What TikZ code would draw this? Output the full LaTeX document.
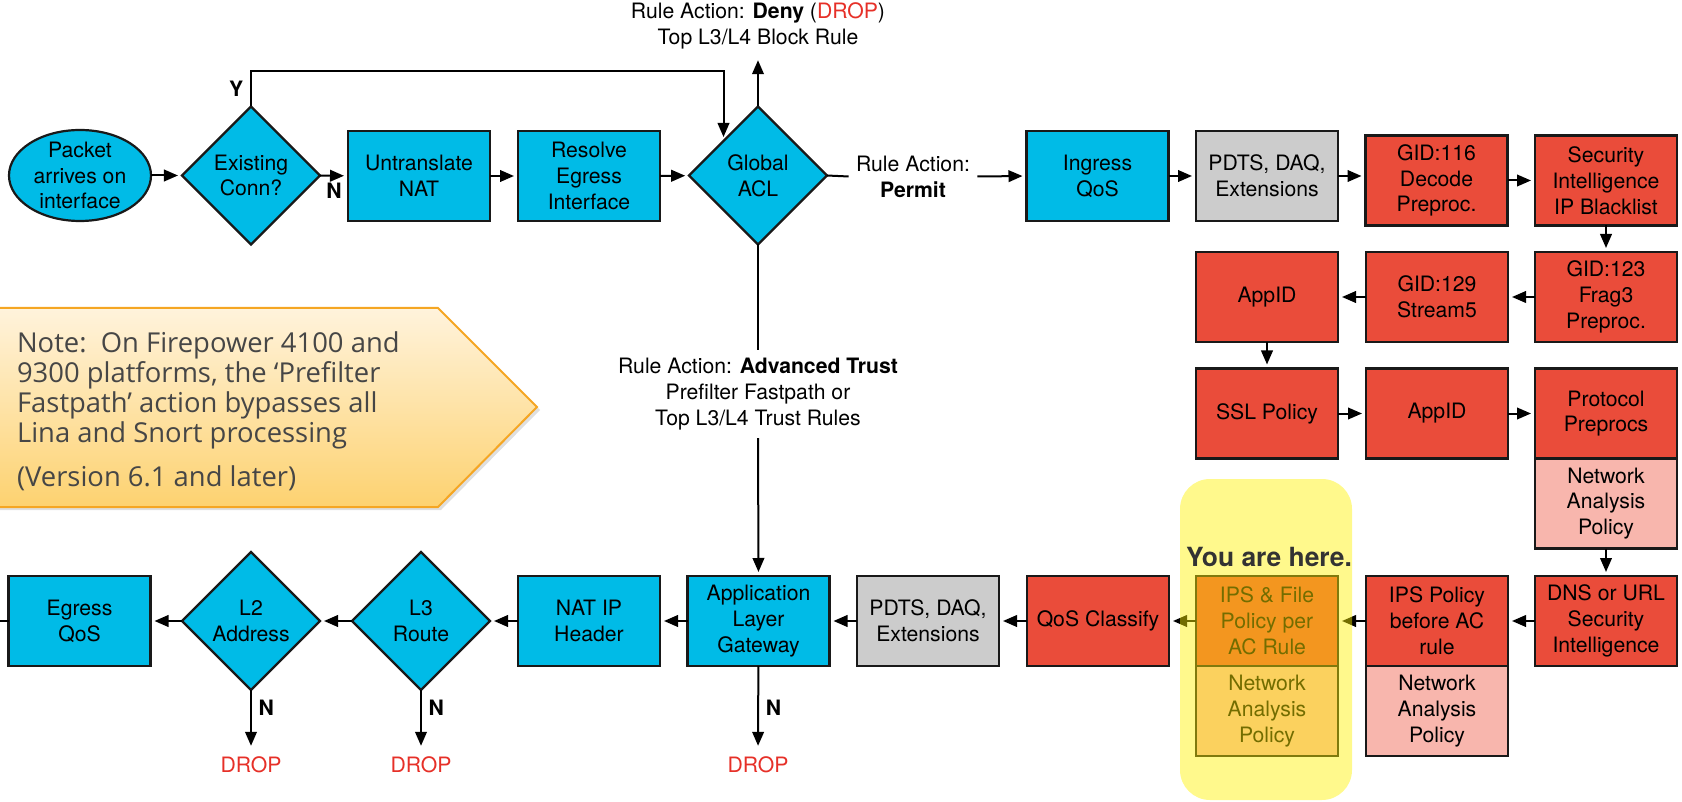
\documentclass[tikz,border=0pt]{standalone}
\usepackage{fontspec}
\setmainfont{TeX Gyre Heros}
\newfontfamily\notefont{Open Sans}
\usetikzlibrary{arrows.meta,positioning,shapes.geometric,shadows}
\definecolor{fpblue}{RGB}{0,187,231}
\definecolor{fpred}{RGB}{234,76,58}
\definecolor{fpgrey}{RGB}{204,204,204}
\definecolor{fppink}{RGB}{248,182,173}
\definecolor{droptxt}{RGB}{230,48,40}
\definecolor{notetop}{RGB}{255,243,220}
\definecolor{notebot}{RGB}{253,210,112}
\definecolor{noteedge}{RGB}{245,166,35}
\definecolor{notetxt}{RGB}{70,70,70}
\newcommand{\flowfont}{\fontsize{10.6}{12.9}\selectfont}

\tikzset{
  stage/.style={draw=black!90, line width=1.1pt, minimum width=71pt, minimum height=45pt,
    inner sep=2pt, outer sep=0pt, align=center},
  lina/.style={stage, fill=fpblue},
  snort/.style={stage, fill=fpred},
  daq/.style={stage, fill=fpgrey},
  nap/.style={stage, fill=fppink},
  check/.style={diamond, aspect=1, draw=black!90, line width=1.1pt, fill=fpblue,
    minimum width=69pt, minimum height=69pt, inner sep=1pt, outer sep=0pt, align=center},
  flow/.style={->, line width=1pt, shorten >=2pt},
  wire/.style={line width=1pt},
  yn/.style={font=\flowfont\bfseries},
  dropword/.style={text=droptxt},
}

\begin{document}
\begin{tikzpicture}[x=0.5pt,y=-0.5pt,>={Triangle[length=7pt,width=5.8pt]},every node/.style={font=\flowfont}]
  \useasboundingbox (0,0) rectangle (1682,802);

  % callout on the left
  \draw[noteedge, line width=1pt, top color=notetop, bottom color=notebot,
    drop shadow={opacity=0.25,shadow xshift=1.5pt,shadow yshift=-1.5pt}]
    (-10,308) -- (438,308) -- (537,407) -- (438,507) -- (-10,507) -- cycle;
  \node[anchor=west, align=left, text=notetxt, font=\notefont\fontsize{13.7}{15}\selectfont] (notetext) at (10,411)
    {Note:\ \ On Firepower 4100 and\\9300 platforms, the ‘Prefilter\\Fastpath’ action bypasses all\\Lina and Snort processing\\[7pt](Version 6.1 and later)};

  % ingress path
  \node[ellipse, draw=black!90, line width=1.1pt, fill=fpblue, minimum width=71pt, minimum height=45.5pt,
    inner sep=0pt, outer sep=0pt] (pkt) at (80,175.5) {};
  \node[align=center] (pkttext) at (pkt.center) {Packet\\arrives on\\interface};
  \node[check] (conn) at (251,175.5) {Existing\\Conn?};
  \node[lina] (untr) at (419,176) {Untranslate\\NAT};
  \node[lina] (egrif) at (589,176) {Resolve\\Egress\\Interface};
  \node[check] (acl) at (758,175.5) {Global\\ACL};
  \node[align=center] (deny) at (758,26) {Rule Action: \textbf{Deny} (\textcolor{droptxt}{DROP})\\Top L3/L4 Block Rule};
  \node[align=center, inner sep=3.5pt] (permit) at (913,176.5) {Rule Action:\\\textbf{Permit}};
  \node[lina] (ingress) at (1097.5,176) {Ingress\\QoS};
  \node[daq] (pdts1) at (1267,176) {PDTS, DAQ,\\Extensions};
  \node[snort] (gid116) at (1436.5,180.5) {GID:116\\Decode\\Preproc.};
  \node[snort] (siip) at (1606,180.5) {Security\\Intelligence\\IP Blacklist};

  % snort preprocessing
  \node[snort] (gid123) at (1606,297) {GID:123\\Frag3\\Preproc.};
  \node[snort] (gid129) at (1437,297) {GID:129\\Stream5};
  \node[snort] (appid1) at (1267,297) {AppID};
  \node[snort] (ssl) at (1267,413.5) {SSL Policy};
  \node[snort] (appid2) at (1437,413.5) {AppID};
  \node[snort] (proto) at (1606,413.5) {Protocol\\Preprocs};
  \node[nap, below=0pt of proto] (nap1) {Network\\Analysis\\Policy};

  % egress path
  \node[snort] (dnsurl) at (1606,621) {DNS or URL\\Security\\Intelligence};
  \node[snort] (ipspre) at (1437,621) {IPS Policy\\before AC\\rule};
  \node[nap, below=0pt of ipspre] (nap2) {Network\\Analysis\\Policy};
  \node[snort] (ipsfile) at (1267,621) {IPS \& File\\Policy per\\AC Rule};
  \node[nap, below=0pt of ipsfile] (nap3) {Network\\Analysis\\Policy};
  \node[snort] (qoscls) at (1098,621) {QoS Classify};
  \node[daq] (pdts2) at (928,621) {PDTS, DAQ,\\Extensions};
  \node[lina] (alg) at (758.5,621) {Application\\Layer\\Gateway};
  \node[lina] (natip) at (589,621) {NAT IP\\Header};
  \node[check] (l3) at (421,621) {L3\\Route};
  \node[check] (l2) at (251,621) {L2\\Address};
  \node[lina] (egrqos) at (79.5,621) {Egress\\QoS};
  \node[align=center, inner sep=4pt] (trust) at (758,394)
    {Rule Action: \textbf{Advanced Trust}\\Prefilter Fastpath or\\Top L3/L4 Trust Rules};

  \node[dropword] (drop1) at (251,765) {DROP};
  \node[dropword] (drop2) at (421,765) {DROP};
  \node[dropword] (drop3) at (758,765) {DROP};

  % connectors
  \coordinate (ytop) at (acl.north west |- 0,71);
  \draw[flow] (pkt) -- (conn);
  \draw[flow] (conn) -- node[yn,below] {N} (untr);
  \draw[flow] (conn.north) |- node[yn,pos=0.25,left] {Y} (ytop) -- (acl.north west);
  \draw[flow] (untr) -- (egrif);
  \draw[flow] (egrif) -- (acl);
  \draw[flow] (acl.north) -- (deny);
  \draw[wire] (acl.east) -- (permit.west);
  \draw[flow] (permit.east) -- (ingress.west);
  \draw[wire] (acl.south) -- (trust.north);
  \draw[flow] (trust.south) -- (alg.north);
  \draw[flow] (ingress) -- (pdts1);
  \draw[flow] (pdts1.east) -- (pdts1.east -| gid116.west);
  \draw[flow] (gid116) -- (siip);
  \draw[flow] (siip) -- (gid123);
  \draw[flow] (gid123) -- (gid129);
  \draw[flow] (gid129) -- (appid1);
  \draw[flow] (appid1) -- (ssl);
  \draw[flow] (ssl) -- (appid2);
  \draw[flow] (appid2) -- (proto);
  \draw[flow] (nap1) -- (dnsurl);
  \draw[flow] (dnsurl) -- (ipspre);
  \draw[flow] (ipspre) -- (ipsfile);
  \draw[flow] (ipsfile) -- (qoscls);
  \draw[flow] (qoscls) -- (pdts2);
  \draw[flow] (pdts2) -- (alg);
  \draw[flow] (alg) -- (natip);
  \draw[flow] (natip) -- (l3);
  \draw[flow] (l3) -- (l2);
  \draw[flow] (l2) -- (egrqos);
  \draw[wire] (egrqos.west) -- ++(-20,0);
  \draw[flow] (l2) -- node[yn,right,pos=0.3] {N} (drop1);
  \draw[flow] (l3) -- node[yn,right,pos=0.3] {N} (drop2);
  \draw[flow] (alg) -- node[yn,right] {N} (drop3);

  % highlight over the current stage
  \fill[yellow, opacity=0.45, rounded corners=15pt] (1180,479) rectangle (1352,800);
  \node[font=\fontsize{13.2}{15}\selectfont\bfseries, text=black!80] (here) at (1269,557) {You are here.};
\end{tikzpicture}
\end{document}
